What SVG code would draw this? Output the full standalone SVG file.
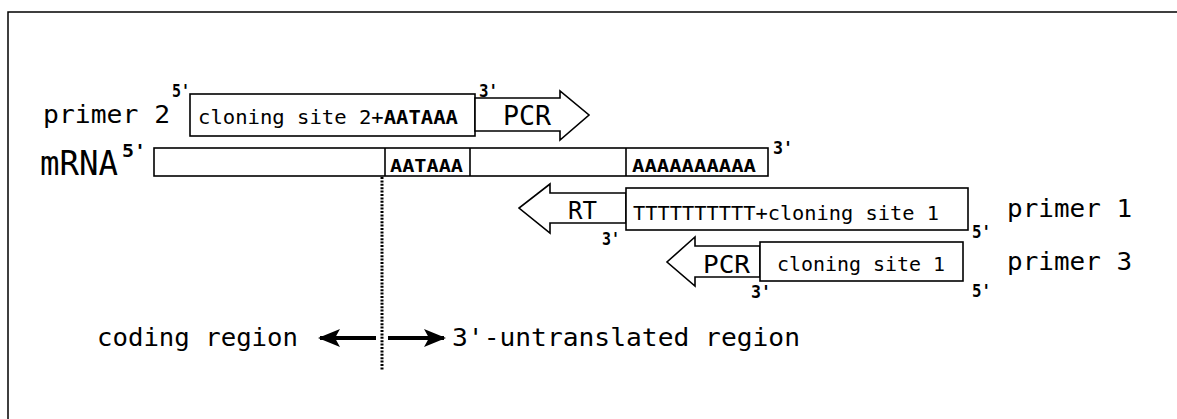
<svg xmlns="http://www.w3.org/2000/svg" width="1177" height="419" viewBox="0 0 1177 419">
  <style>
    .t { font-family: "DejaVu Sans Mono", "Liberation Mono", monospace; fill: #000; }
    .box { fill: #fff; stroke: #000; stroke-width: 1.6; }
    .arr { fill: #fff; stroke: #000; stroke-width: 1.6; stroke-linejoin: miter; }
    .end { font-size: 17px; font-weight: bold; }
    .b { font-weight: bold; }
  </style>
  <defs>
    <marker id="head" viewBox="0 0 22 18" refX="20" refY="9" markerWidth="22" markerHeight="18" markerUnits="userSpaceOnUse" orient="auto">
      <path d="M0,0 L22,9 L0,18 L5,9 Z" fill="#000"/>
    </marker>
  </defs>

  <rect width="1177" height="419" fill="#fff"/>
  <!-- frame -->
  <path d="M8,419 V12 H1177" fill="none" stroke="#000" stroke-width="1.5"/>

  <!-- primer 2 -->
  <g id="primer2">
    <text class="t" x="43" y="123" font-size="24" textLength="127" lengthAdjust="spacingAndGlyphs">primer 2</text>
    <text class="t end" x="172" y="97" textLength="18" lengthAdjust="spacingAndGlyphs">5'</text>
    <rect class="box" x="190" y="94" width="285" height="42"/>
    <text class="t" x="198" y="124" font-size="20" textLength="260" lengthAdjust="spacingAndGlyphs">cloning site 2+<tspan class="b">AATAAA</tspan></text>
    <text class="t end" x="479" y="97" textLength="19" lengthAdjust="spacingAndGlyphs">3'</text>
    <polygon class="arr" points="475,98 560,98 560,91 589,115 560,140 560,131 475,131"/>
    <text class="t" x="503" y="125" font-size="27" textLength="48" lengthAdjust="spacingAndGlyphs">PCR</text>
  </g>

  <!-- mRNA -->
  <g id="mrna">
    <text class="t" x="40" y="175" font-size="34" textLength="78" lengthAdjust="spacingAndGlyphs">mRNA</text>
    <text class="t end" x="122" y="157" textLength="24" lengthAdjust="spacingAndGlyphs">5'</text>
    <rect class="box" x="154" y="148" width="614" height="28"/>
    <line x1="385" y1="148" x2="385" y2="176" stroke="#000" stroke-width="1.6"/>
    <line x1="470" y1="148" x2="470" y2="176" stroke="#000" stroke-width="1.6"/>
    <line x1="626" y1="148" x2="626" y2="176" stroke="#000" stroke-width="1.6"/>
    <text class="t b" x="390" y="172" font-size="17" textLength="73" lengthAdjust="spacingAndGlyphs">AATAAA</text>
    <text class="t b" x="632" y="172" font-size="17" textLength="124" lengthAdjust="spacingAndGlyphs">AAAAAAAAAA</text>
    <text class="t end" x="773" y="154" textLength="20" lengthAdjust="spacingAndGlyphs">3'</text>
  </g>

  <!-- primer 1 -->
  <g id="primer1">
    <polygon class="arr" points="626,193 550,193 550,184 519,208 550,233 550,223 626,223"/>
    <text class="t" x="568" y="219" font-size="24" textLength="29" lengthAdjust="spacingAndGlyphs">RT</text>
    <text class="t end" x="602" y="245" textLength="18" lengthAdjust="spacingAndGlyphs">3'</text>
    <rect class="box" x="626" y="188" width="342" height="42"/>
    <text class="t" x="633" y="220" font-size="20" textLength="306" lengthAdjust="spacingAndGlyphs">TTTTTTTTTT+cloning site 1</text>
    <text class="t end" x="972" y="238" textLength="19" lengthAdjust="spacingAndGlyphs">5'</text>
    <text class="t" x="1007" y="217" font-size="24" textLength="125" lengthAdjust="spacingAndGlyphs">primer 1</text>
  </g>

  <!-- primer 3 -->
  <g id="primer3">
    <polygon class="arr" points="760,246 695,246 695,237 667,262 695,286 695,277 760,277"/>
    <text class="t" x="703" y="273" font-size="25" textLength="47" lengthAdjust="spacingAndGlyphs">PCR</text>
    <text class="t end" x="751" y="298" textLength="20" lengthAdjust="spacingAndGlyphs">3'</text>
    <rect class="box" x="760" y="242" width="203" height="39"/>
    <text class="t" x="777" y="271" font-size="20" textLength="168" lengthAdjust="spacingAndGlyphs">cloning site 1</text>
    <text class="t end" x="972" y="297" textLength="19" lengthAdjust="spacingAndGlyphs">5'</text>
    <text class="t" x="1007" y="270" font-size="24" textLength="125" lengthAdjust="spacingAndGlyphs">primer 3</text>
  </g>

  <!-- region labels -->
  <g id="regions">
    <text class="t" x="97" y="346" font-size="25" textLength="201" lengthAdjust="spacingAndGlyphs">coding region</text>
    <text class="t" x="452" y="346" font-size="25" textLength="348" lengthAdjust="spacingAndGlyphs">3'-untranslated region</text>
  </g>

  <!-- connectors -->
  <g id="connectors">
    <line x1="382" y1="177" x2="382" y2="370" stroke="#000" stroke-width="3" stroke-dasharray="2 1.4"/>
    <line x1="376" y1="338" x2="320" y2="338" stroke="#000" stroke-width="4" marker-end="url(#head)"/>
    <line x1="388" y1="338" x2="444" y2="338" stroke="#000" stroke-width="4" marker-end="url(#head)"/>
  </g>
</svg>
